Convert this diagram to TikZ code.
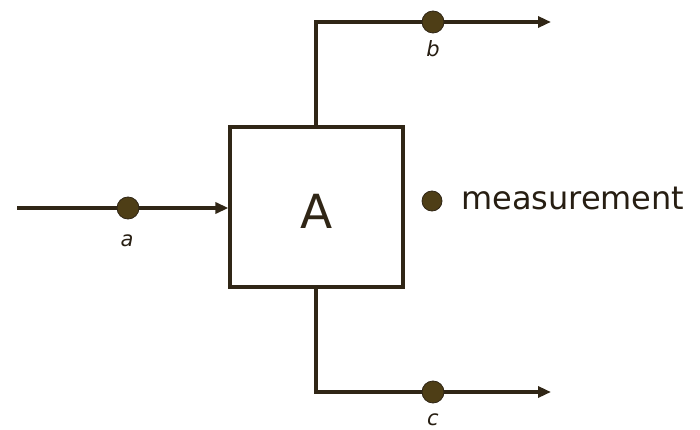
\documentclass[tikz,border=0pt]{standalone}
\usepackage{fontspec}
\setmainfont{DejaVu Sans}
\usetikzlibrary{arrows.meta}
\definecolor{linec}{RGB}{48,38,22}
\definecolor{dotc}{RGB}{78,62,22}
\tikzset{
  flow/.style={draw=linec, line width=3.2pt},
  arr/.style={flow, -{Triangle[length=13pt,width=11pt]}},
  pt/.style={circle, fill=dotc, draw=linec, line width=0.8pt, minimum size=22pt, inner sep=0pt},
  lbl/.style={anchor=base, font=\fontsize{21}{21}\selectfont\itshape, text=linec!80!black, inner sep=0pt},
}
\begin{document}
\begin{tikzpicture}[x=1pt,y=-1pt]
\useasboundingbox (0,0) rectangle (700,430);
\node[flow, minimum width=173pt, minimum height=160pt, inner sep=0pt] (A) at (316.5,207) {};
\node[anchor=base, inner sep=0pt, font=\fontsize{47}{47}\selectfont, text=linec] (Alab) at (317,228) {A};
% input a
\coordinate (in) at (17,208);
\draw[arr] (in) -- (A.west |- in);
\node[pt] (a) at (128,208) {};
\node[lbl] (la) at (127,246) {a};
% output b
\coordinate (bc) at (316,22);
\coordinate (bend) at (551,22);
\draw[arr] (A.north -| bc) -- (bc) -- (bend);
\node[pt] (b) at (433,22) {};
\node[lbl] (lb) at (433,57) {b};
% output c
\coordinate (cc) at (316,392);
\coordinate (cend) at (551,392);
\draw[arr] (A.south -| cc) -- (cc) -- (cend);
\node[pt] (c) at (433,392) {};
\node[lbl] (lc) at (433,425) {c};
% measurement
\node[pt, minimum size=20pt] (m) at (432,201) {};
\node[anchor=base west, inner sep=0pt, font=\fontsize{32}{32}\selectfont, text=linec!80!black] (ml) at (461,210) {measurement};
\end{tikzpicture}
\end{document}
